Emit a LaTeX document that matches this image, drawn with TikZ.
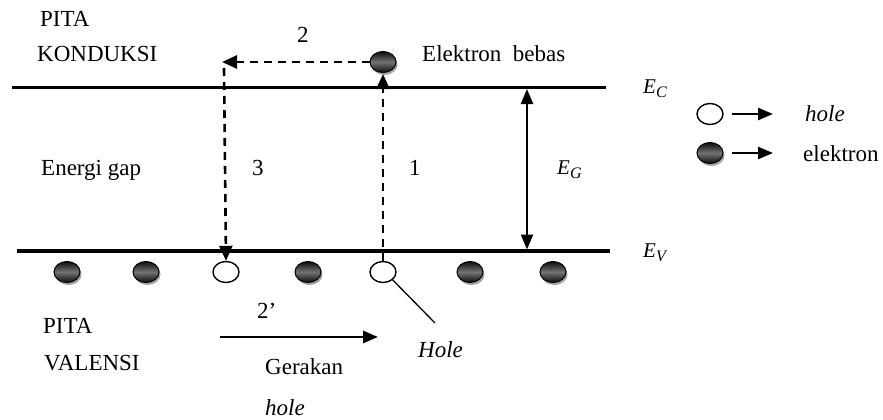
\documentclass[tikz,border=0pt]{standalone}
\usepackage{fontspec}
\setmainfont{Liberation Serif}
\usetikzlibrary{arrows.meta,shapes.geometric,shadows}

\tikzset{
  lbl/.style={anchor=base west, inner sep=0pt, font=\fontsize{23}{27}\selectfont},
  ilbl/.style={lbl, font=\fontsize{23}{27}\selectfont\itshape},
  band/.style={line width=3.5pt},
  particle/.style={ellipse, minimum width=26pt, minimum height=21pt, inner sep=0pt},
  electron/.style={particle, draw=black, line width=1pt, shading=axis,
    top color=black!95, bottom color=black!95, middle color=black!55,
    drop shadow={shadow xshift=1.5pt, shadow yshift=-2.5pt, fill=black!45, opacity=0.8}},
  hole/.style={particle, draw=black, line width=1.4pt, fill=white},
  dashline/.style={line width=2.6pt, dash pattern=on 8pt off 6pt},
  tip/.style={-{Triangle[length=15pt,width=13pt]}},
  solidarrow/.style={line width=2.4pt, -{Triangle[length=15pt,width=12pt]}},
}
\newcommand{\Elabel}[1]{\fontsize{21}{24}\selectfont\textit{E}\raisebox{-4pt}{\fontsize{16}{18}\selectfont\textit{#1}}}

\begin{document}
\begin{tikzpicture}[x=1pt,y=-1pt]
  \useasboundingbox (0,0) rectangle (883,420);

  % band edges
  \coordinate (cL) at (12,87.5);
  \coordinate (cR) at (606,87.5);
  \coordinate (vL) at (17,251);
  \coordinate (vR) at (610,251);
  \draw[band] (cL) -- (cR);
  \draw[band] (vL) -- (vR);

  % band labels
  \node[lbl] (pk1) at (40,27) {PITA};
  \node[lbl] (pk2) at (37,62) {KONDUKSI};
  \node[lbl] (pv1) at (43,333) {PITA};
  \node[lbl] (pv2) at (44,370) {VALENSI};
  \node[lbl] (gap) at (41,175) {Energi gap};
  \node[anchor=base west, inner sep=0pt] (ec) at (643,93) {\Elabel{C}};
  \node[anchor=base west, inner sep=0pt] (ev) at (643,257) {\Elabel{V}};

  % free electron in the conduction band
  \node[electron] (ce) at (383,62) {};
  \node[lbl] (free) at (422,62) {Elektron\ \ bebas};

  % valence band electrons and holes
  \node[electron] (v1) at (67,272) {};
  \node[electron] (v2) at (146,272) {};
  \node[hole]     (h1) at (226,272) {};
  \node[electron] (v3) at (308,272) {};
  \node[hole]     (h2) at (383,272) {};
  \node[electron] (v4) at (470,272) {};
  \node[electron] (v5) at (553,272) {};

  % transitions 1, 2, 3
  \coordinate (corner) at (222,62);
  \coordinate (down3) at (224,68);
  \draw[dashline, tip] (h2.north) -- ([yshift=-1pt]ce.south);
  \draw[dashline, tip] (ce.west) -- (corner);
  \draw[dashline, tip] (down3) -- (h1.north);
  \node[lbl] (n2) at (297,43) {2};
  \node[lbl] (n3) at (252,175) {3};
  \node[lbl] (n1) at (409,175) {1};

  % energy gap
  \coordinate (gTop) at (527,89);
  \coordinate (gBot) at (527,249.5);
  \draw[line width=2.4pt, {Triangle[length=15pt,width=12pt]}-{Triangle[length=15pt,width=12pt]}] (gBot) -- (gTop);
  \node[anchor=base west, inner sep=0pt] (eg) at (557,174) {\Elabel{G}};

  % hole motion
  \coordinate (m1) at (220,337);
  \coordinate (m2) at (378,337);
  \draw[solidarrow, line width=2.8pt] (m1) -- (m2);
  \node[lbl] (n2p) at (257,318) {2’};
  \node[lbl] (ger) at (265,374) {Gerakan};
  \node[ilbl] (gh) at (265,415) {hole};
  \coordinate (hl) at (435,323);
  \draw[line width=1.3pt] (h2.south east) -- (hl);
  \node[ilbl] (holetxt) at (418,357) {Hole};

  % legend
  \node[hole] (lh) at (710,114) {};
  \node[electron] (le) at (710,153) {};
  \coordinate (lha) at (732,114);
  \coordinate (lhb) at (773,114);
  \coordinate (lea) at (732,153);
  \coordinate (leb) at (773,153);
  \draw[solidarrow] (lha) -- (lhb);
  \draw[solidarrow] (lea) -- (leb);
  \node[ilbl] (lht) at (805,121) {hole};
  \node[lbl] (let) at (803,161) {elektron};
\end{tikzpicture}
\end{document}
